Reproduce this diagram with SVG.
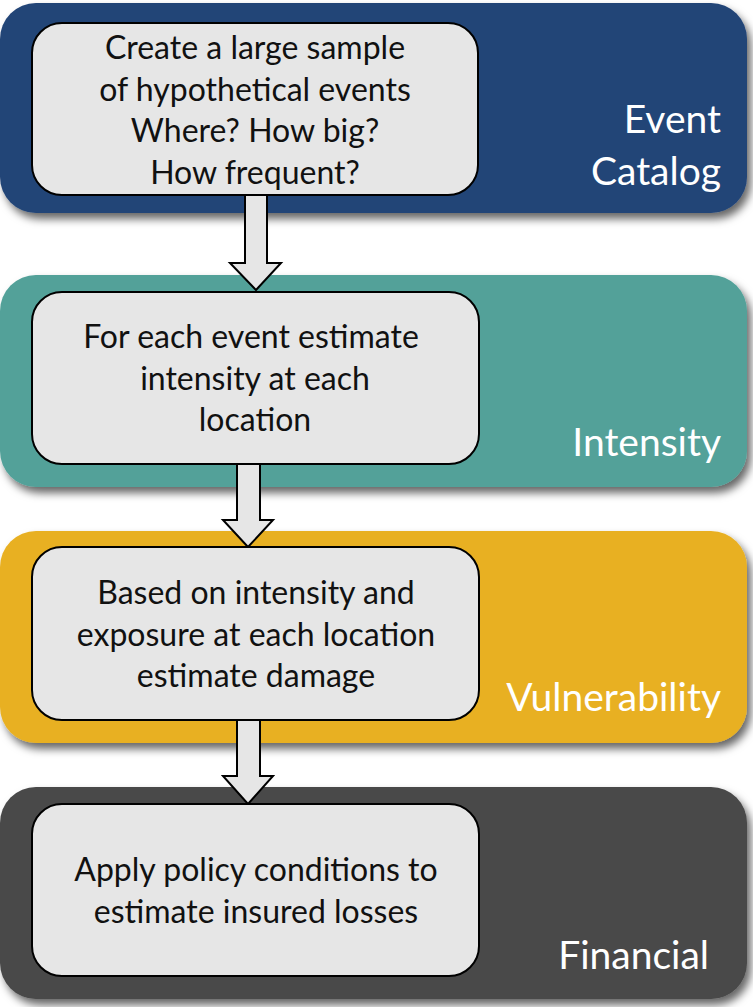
<svg xmlns="http://www.w3.org/2000/svg" width="753" height="1007" viewBox="0 0 753 1007">
<defs>
<filter id="sh" x="-5%" y="-10%" width="115%" height="130%">
<feDropShadow dx="4" dy="6" stdDeviation="4" flood-color="#000" flood-opacity="0.6"/>
</filter>
</defs>
<style>
.box{fill:#E6E6E6;stroke:#000;stroke-width:2}
.t{font-family:Lato,"Open Sans",sans-serif;font-size:32px;fill:#111;text-anchor:middle}
.lab{font-family:Lato,"Open Sans",sans-serif;font-size:39px;fill:#fff;text-anchor:end}
.arr{fill:#E6E6E6;stroke:#000;stroke-width:2;stroke-linejoin:miter}
</style>
<rect width="753" height="1007" fill="#fff"/>
<g id="band-event">
<rect x="0" y="3" width="747" height="210" rx="36" fill="#224477" filter="url(#sh)"/>
<text class="lab" x="721" y="133">Event</text>
<text class="lab" x="721" y="185">Catalog</text>
</g>
<g id="band-intensity">
<rect x="0" y="275" width="747" height="212" rx="36" fill="#52A199" filter="url(#sh)"/>
<text class="lab" x="721" y="456">Intensity</text>
</g>
<g id="band-vulnerability">
<rect x="0" y="531" width="747" height="212" rx="36" fill="#E8B023" filter="url(#sh)"/>
<text class="lab" x="721" y="711">Vulnerability</text>
</g>
<g id="band-financial">
<rect x="0" y="787" width="747" height="212" rx="36" fill="#484848" filter="url(#sh)"/>
<text class="lab" x="709" y="969">Financial</text>
</g>
<g id="connectors">
<path class="arr" d="M245,195 V263 H230 L256,290 L281,263 H267 V195 Z"/>
<path class="arr" d="M237,464 V520 H223 L248,547 L273,520 H260 V464 Z"/>
<path class="arr" d="M237,720 V776 H223 L248,804 L273,776 H260 V720 Z"/>
</g>
<g id="box-event">
<rect class="box" x="32" y="23" width="446" height="172" rx="30"/>
<text class="t" x="255" y="59">Create a large sample</text>
<text class="t" x="255" y="101">of hypothetical events</text>
<text class="t" x="255" y="142">Where? How big?</text>
<text class="t" x="255" y="184">How frequent?</text>
</g>
<g id="box-intensity">
<rect class="box" x="32" y="292" width="447" height="172" rx="30"/>
<text class="t" x="251" y="348">For each event estimate</text>
<text class="t" x="255" y="390">intensity at each</text>
<text class="t" x="255" y="431">location</text>
</g>
<g id="box-vulnerability">
<rect class="box" x="32" y="547" width="447" height="173" rx="30"/>
<text class="t" x="256" y="604">Based on intensity and</text>
<text class="t" x="256" y="646">exposure at each location</text>
<text class="t" x="256" y="687">estimate damage</text>
</g>
<g id="box-financial">
<rect class="box" x="32" y="804" width="447" height="172" rx="30"/>
<text class="t" x="256" y="881">Apply policy conditions to</text>
<text class="t" x="256" y="923">estimate insured losses</text>
</g>
</svg>
